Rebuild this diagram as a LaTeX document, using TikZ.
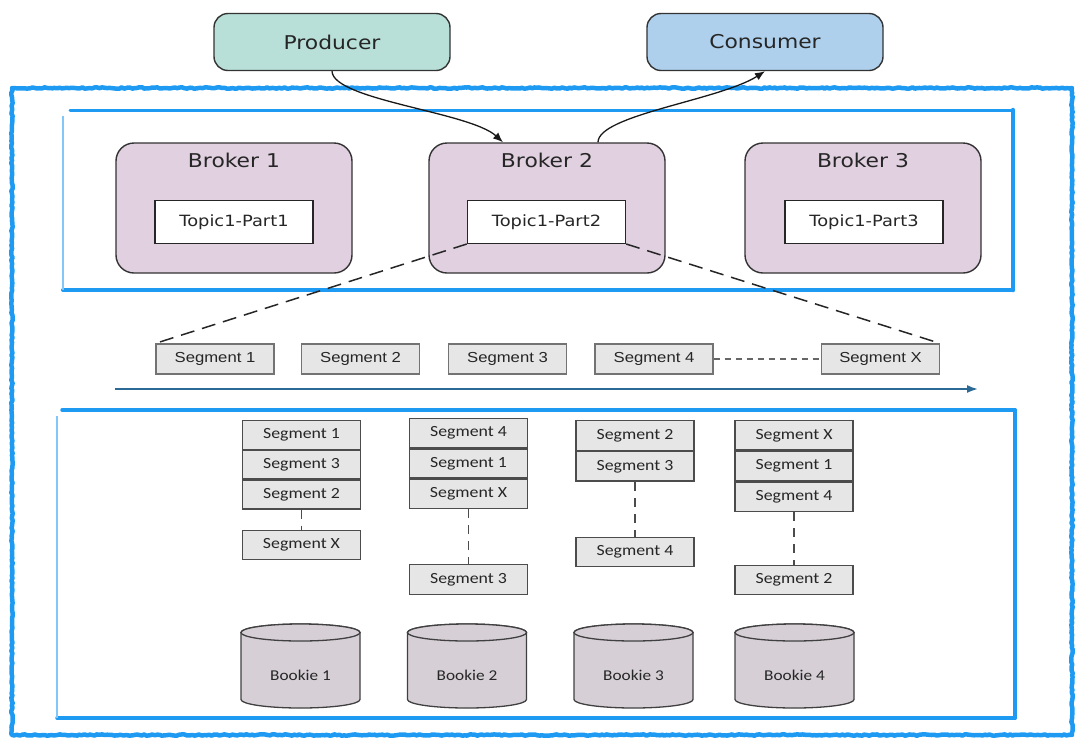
\documentclass[tikz,border=0pt]{standalone}
\usepackage{fontspec}
\usetikzlibrary{arrows.meta,decorations.pathmorphing}
\newfontfamily\fdv[FakeStretch=1.15]{DejaVu Sans}
\newfontfamily\flib[FakeStretch=1.15]{Liberation Sans}
\newfontfamily\fcar[FakeStretch=1.15]{Carlito}
\definecolor{prodc}{HTML}{B8E0D8}
\definecolor{consc}{HTML}{AED0EC}
\definecolor{brokc}{HTML}{E0D0E0}
\definecolor{segc}{HTML}{E6E6E6}
\definecolor{bookc}{HTML}{D6D0D6}
\definecolor{bluec}{HTML}{1E9AF2}
\definecolor{axisc}{HTML}{2A6A94}
\definecolor{txtc}{HTML}{262626}
\newcommand\drawbookie[3]{%
  \draw[bookline] ({#1-59.5},632.5) -- ({#1-59.5},699.5)
    arc[start angle=180,end angle=360,x radius=59.5pt,y radius=8.5pt]
    -- ({#1+59.5},632.5)
    arc[start angle=0,end angle=180,x radius=59.5pt,y radius=8.5pt] -- cycle;
  \draw[bookline] (#1,632.5) ellipse[x radius=59.5pt,y radius=8.5pt];
  \node[booktext] (#2) at (#1,675) {#3};}
\begin{document}
\begin{tikzpicture}[x=1pt,y=-1pt,
  client/.style={draw=black!80, line width=1.4pt, rounded corners=14pt,
    minimum width=236pt, minimum height=57pt, inner sep=0pt,
    font=\fdv\fontsize{19}{20}\selectfont, text=txtc},
  broker/.style={draw=black!80, line width=1.4pt, fill=brokc, rounded corners=18pt,
    minimum width=236pt, minimum height=130pt, inner sep=0pt},
  btitle/.style={font=\fdv\fontsize{19}{20}\selectfont, text=txtc, inner sep=0pt, anchor=base},
  topic/.style={draw=black!85, line width=1.4pt, fill=white, minimum width=158pt,
    minimum height=43pt, inner sep=0pt, font=\fdv\fontsize{15.5}{17}\selectfont, text=txtc},
  segrow/.style={draw=black!55, line width=1.2pt, fill=segc, minimum width=118pt,
    minimum height=30pt, inner sep=0pt, font=\flib\fontsize{14.5}{16}\selectfont, text=txtc},
  stackseg/.style={draw=black!70, line width=1.4pt, fill=segc, minimum width=118pt,
    inner sep=0pt, anchor=north, font=\fcar\fontsize{15.5}{16}\selectfont, text=txtc},
  bigdash/.style={dash pattern=on 14pt off 8pt, line width=1.5pt, draw=black!85},
  smalldash/.style={dash pattern=on 6pt off 5pt, line width=1.1pt, draw=black!60},
  stackdash/.style={dash pattern=on 9pt off 7pt, line width=1.6pt, draw=black!70},
  bookline/.style={draw=black!75, line width=1.3pt, fill=bookc},
  booktext/.style={font=\fcar\fontsize{15}{16}\selectfont, text=txtc, inner sep=0pt},
  flow/.style={draw=black!90, line width=1.3pt, -{Latex[length=10pt,width=8pt]}},
  bluebig/.style={draw=bluec, line width=4.5pt, line join=round, decorate,
    decoration={random steps, segment length=2.5pt, amplitude=0.7pt}},
  blueedge/.style={draw=bluec, line width=#1, line cap=round},
  bluefaint/.style={draw=bluec!55, line width=1.3pt}
]
\useasboundingbox (0,0) rectangle (1080,740);

% outer hand drawn frame
\draw[bluebig] (12,88) rectangle (1072,735);
% top inner frame
\draw[blueedge=3pt] (70,110) -- (1013,110);
\draw[blueedge=4.5pt] (1013,110) -- (1013,290);
\draw[blueedge=4pt] (1013,290) -- (63,290);
\draw[bluefaint] (63,290) -- (63,116);
% lower inner frame
\draw[blueedge=3.5pt] (62,410) -- (1015,410);
\draw[blueedge=4pt] (1015,410) -- (1015,718);
\draw[blueedge=3.5pt] (1015,718) -- (57,718);
\draw[bluefaint] (57,718) -- (57,416);

% clients
\node[client, fill=prodc] (prod) at (332,42) {Producer};
\node[client, fill=consc] (cons) at (765,42) {Consumer};

% brokers
\node[broker] (b1) at (234,208) {};
\node[broker] (b2) at (547,208) {};
\node[broker] (b3) at (863,208) {};
\node[btitle] (b1t) at (234,167.5) {Broker 1};
\node[btitle] (b2t) at (547,167.5) {Broker 2};
\node[btitle] (b3t) at (863,167.5) {Broker 3};
\node[topic] (t1) at (234,221.8) {Topic1-Part1};
\node[topic] (t2) at (546.5,221.8) {Topic1-Part2};
\node[topic] (t3) at (864,221.8) {Topic1-Part3};

% flows
\draw[flow] (prod.south) .. controls (333,100) and (470,112) .. ([xshift=-44pt]b2.north);
\draw[flow] ([xshift=51pt]b2.north) .. controls (598,115) and (720,100) .. (cons.south);

% segment row
\node[segrow] (s1) at (215,359) {Segment 1};
\node[segrow] (s2) at (360.5,359) {Segment 2};
\node[segrow] (s3) at (507.5,359) {Segment 3};
\node[segrow] (s4) at (654,359) {Segment 4};
\node[segrow] (sx) at (880.5,359) {Segment X};
\draw[bigdash] (t2.south west) -- (s1.north west);
\draw[bigdash] (t2.south east) -- (sx.north east);
\draw[smalldash] (s4.east) -- (sx.west);

% time axis
\coordinate (ax0) at (115,389);
\coordinate (ax1) at (978,389);
\draw[draw=axisc, line width=1.8pt, -{Latex[length=11pt,width=8pt]}] (ax0) -- (ax1);

% stack 1
\node[stackseg, minimum height=28.5pt] (a1) at (301.5,420) {Segment 1};
\node[stackseg, minimum height=28.5pt] (a2) at (a1.south) {Segment 3};
\node[stackseg, minimum height=28.5pt] (a3) at (a2.south) {Segment 2};
\node[stackseg, minimum height=29pt] (a4) at (301.5,530) {Segment X};
\draw[stackdash] (a3.south) -- (a4.north);
% stack 2
\node[stackseg, minimum height=29pt] (b1s) at (468.5,418) {Segment 4};
\node[stackseg, minimum height=29pt] (b2s) at (b1s.south) {Segment 1};
\node[stackseg, minimum height=29pt] (b3s) at (b2s.south) {Segment X};
\node[stackseg, minimum height=30pt] (b4s) at (468.5,564) {Segment 3};
\draw[stackdash] (b3s.south) -- (b4s.north);
% stack 3
\node[stackseg, minimum height=29.5pt] (c1s) at (635,420) {Segment 2};
\node[stackseg, minimum height=29.5pt] (c2s) at (c1s.south) {Segment 3};
\node[stackseg, minimum height=29pt] (c3s) at (635,537) {Segment 4};
\draw[stackdash] (c2s.south) -- (c3s.north);
% stack 4
\node[stackseg, minimum height=29.3pt] (d1s) at (794,420) {Segment X};
\node[stackseg, minimum height=29.3pt] (d2s) at (d1s.south) {Segment 1};
\node[stackseg, minimum height=29.3pt] (d3s) at (d2s.south) {Segment 4};
\node[stackseg, minimum height=29pt] (d4s) at (794,565) {Segment 2};
\draw[stackdash] (d3s.south) -- (d4s.north);

% bookies
\drawbookie{300.5}{bk1}{Bookie 1}
\drawbookie{467}{bk2}{Bookie 2}
\drawbookie{633.5}{bk3}{Bookie 3}
\drawbookie{794.5}{bk4}{Bookie 4}
\end{tikzpicture}
\end{document}
